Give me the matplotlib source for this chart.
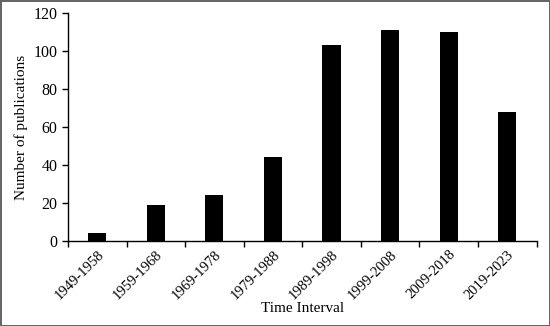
import matplotlib.pyplot as plt
from matplotlib.ticker import FixedLocator

intervals = ["1949-1958", "1959-1968", "1969-1978", "1979-1988",
             "1989-1998", "1999-2008", "2009-2018", "2019-2023"]
counts = [4, 19, 24, 44, 103, 111, 110, 68]

plt.rcParams['font.family'] = ['Liberation Serif', 'DejaVu Serif']

fig = plt.figure(figsize=(5.5, 3.26), dpi=100)
fig.patch.set_edgecolor('#666666')
fig.patch.set_linewidth(2)
ax = fig.add_axes([0.1236, 0.261, 0.852, 0.699])

x = list(range(len(intervals)))
ax.bar(x, counts, width=0.31, color='black')

ax.set_xlim(-0.5, len(intervals) - 0.5)
ax.set_ylim(0, 120)
ax.set_yticks(range(0, 121, 20))
ax.set_xticks(x)
ax.set_xticklabels(intervals, rotation=45, ha='right', rotation_mode='anchor', fontsize=10.5)
ax.xaxis.set_minor_locator(FixedLocator([i - 0.5 for i in range(len(intervals) + 1)]))
ax.tick_params(axis='x', which='major', length=0, pad=5)
ax.tick_params(axis='x', which='minor', length=4, width=1, direction='out')
ax.tick_params(axis='y', length=4, width=1, labelsize=11.5)

for s in ['top', 'right']:
    ax.spines[s].set_visible(False)
ax.spines['left'].set_linewidth(1)
ax.spines['bottom'].set_linewidth(1)

ax.set_ylabel("Number of publications", fontsize=11)
ax.set_xlabel("Time Interval", fontsize=11)
ax.xaxis.set_label_coords(0.5, -0.27)

fig.savefig("out.png", dpi=100, edgecolor=fig.get_edgecolor())
